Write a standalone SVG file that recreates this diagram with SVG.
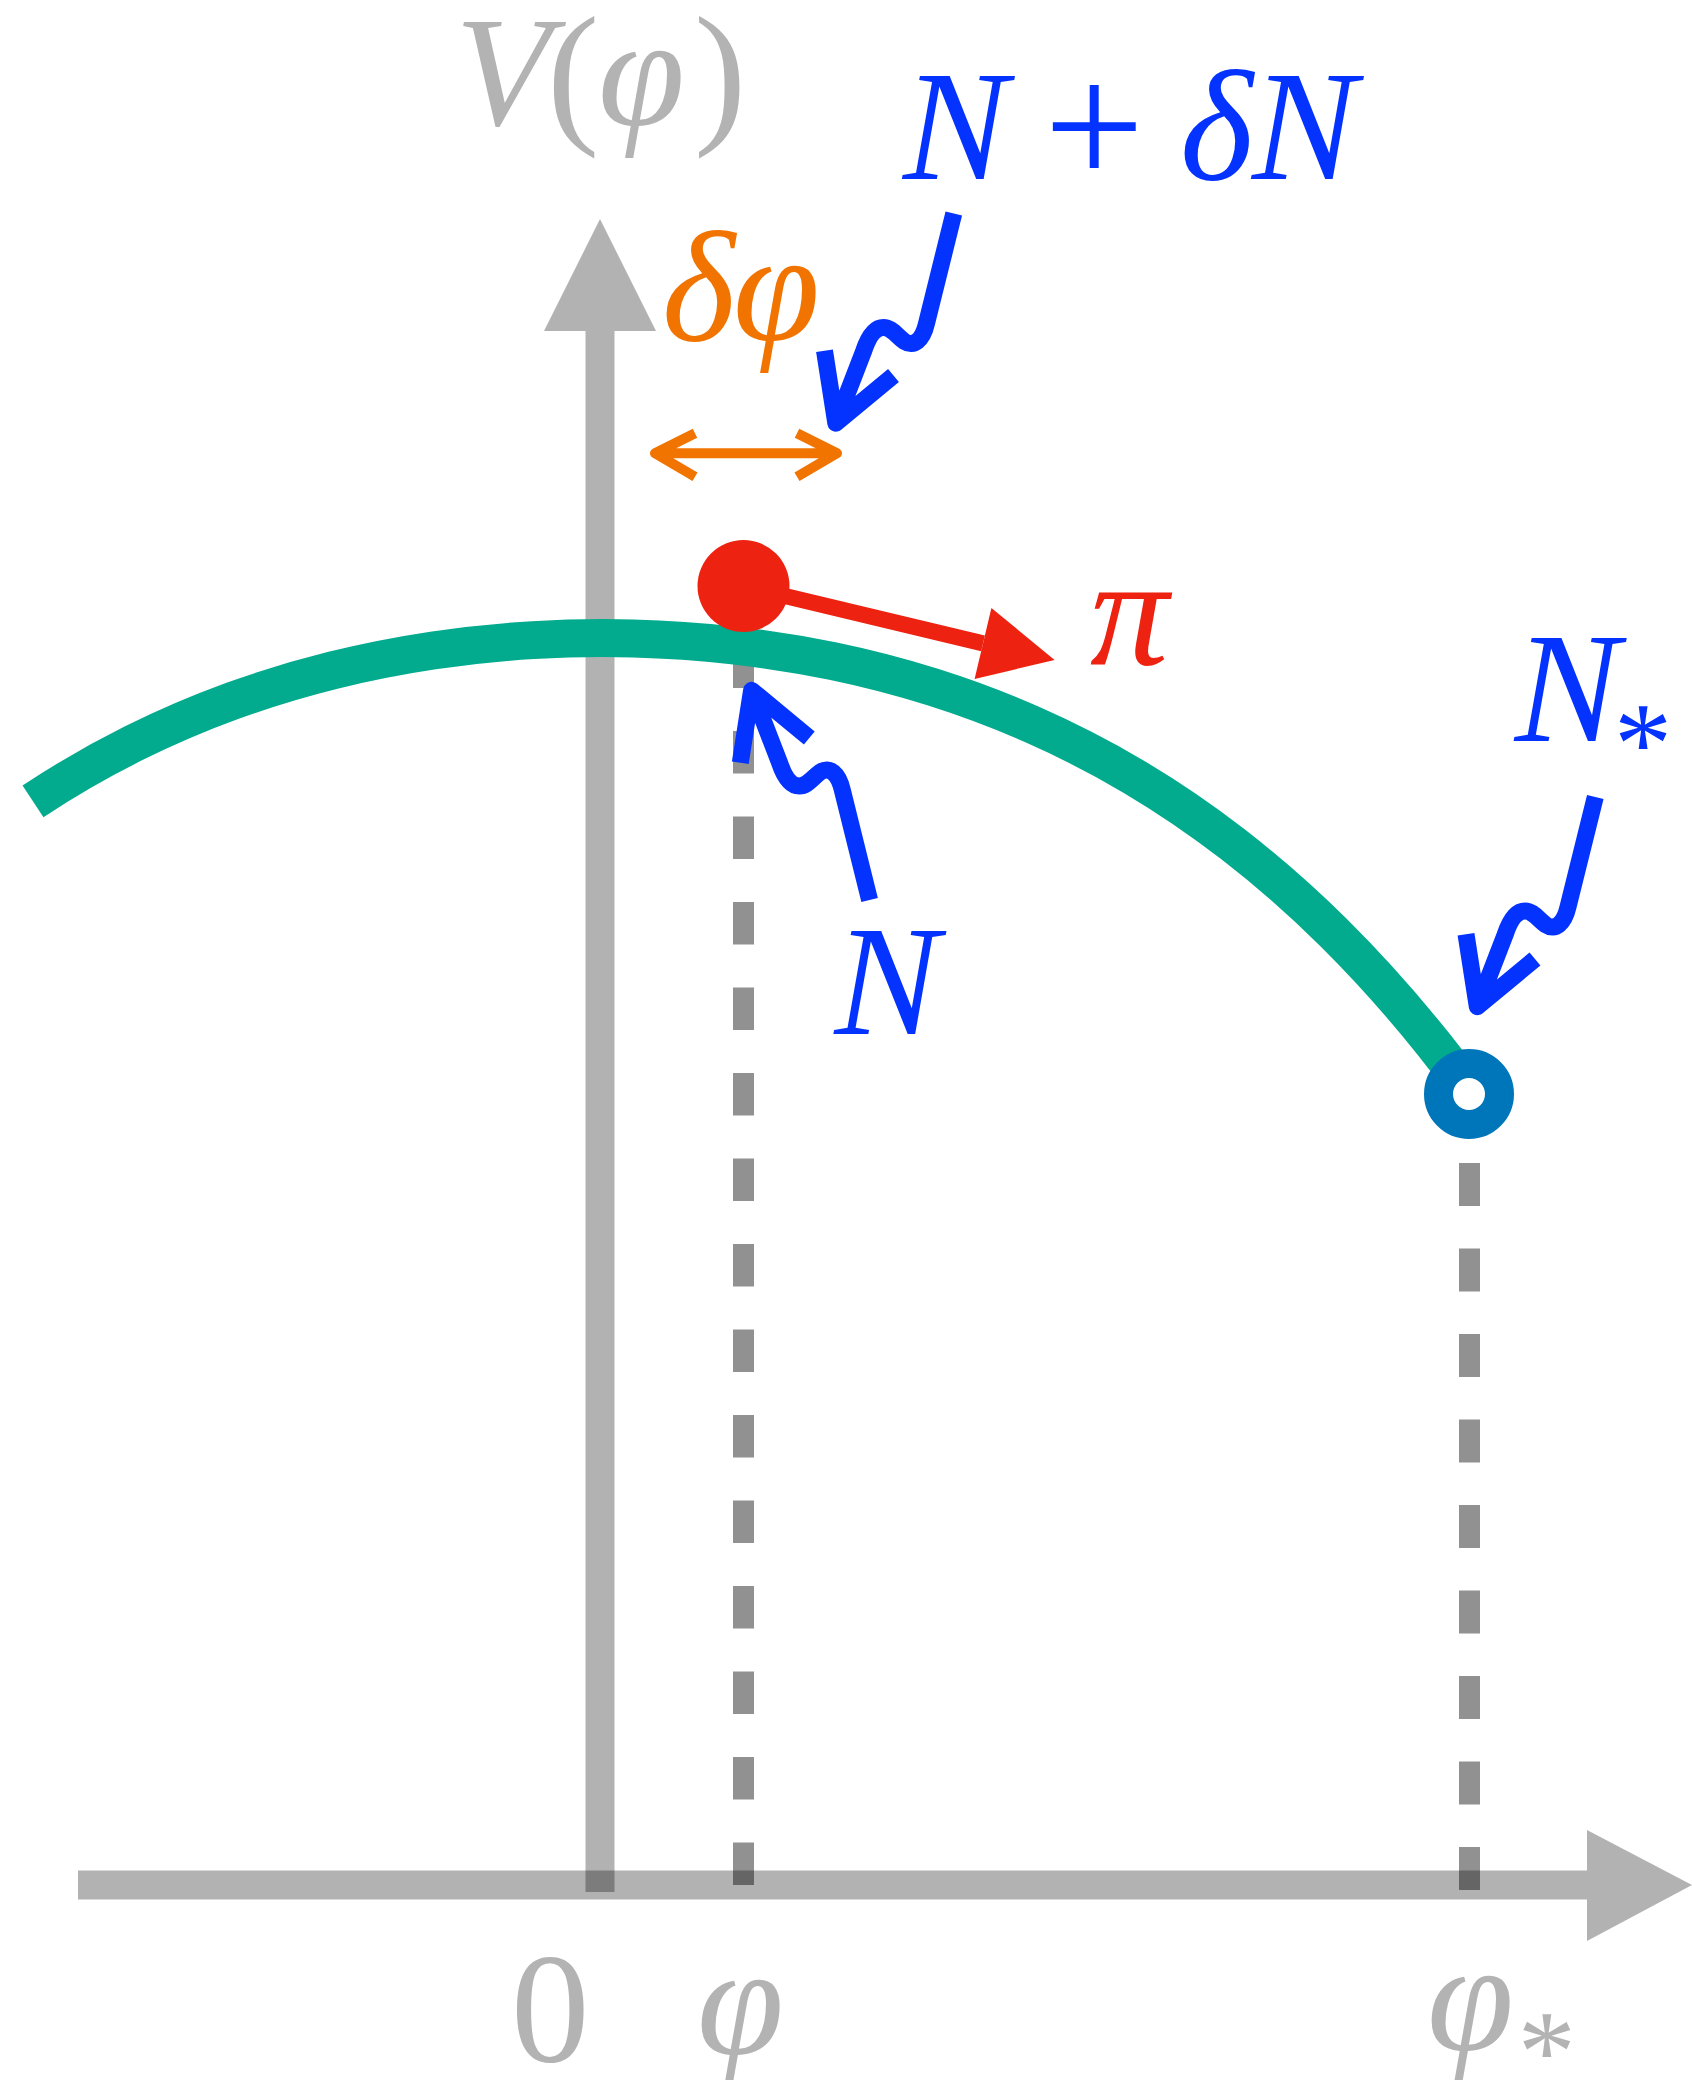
<svg xmlns="http://www.w3.org/2000/svg" xmlns:xlink="http://www.w3.org/1999/xlink" width="1692" height="2080" viewBox="0 0 1692 2080">
<style>
.ax{stroke:#000;stroke-opacity:0.3;stroke-width:29;fill:none}
.axh{fill:#000;fill-opacity:0.3;stroke:none}
.dash{stroke:#000;stroke-opacity:0.43;stroke-width:21;fill:none}
.sq{stroke:#0433ff;stroke-width:17;fill:none;stroke-linejoin:round;stroke-linecap:butt}
.m{font-family:"Liberation Serif","Times New Roman",serif;font-style:italic;font-size:157px}
.r{font-style:normal}
.gray{fill:#b3b3b3}
.blue{fill:#0433ff}
</style>
<defs>
<path id="squig" d="M1595.3,797 L1568,907 C1564,924 1555,931 1546,925 C1538,919 1533,911 1525,911 C1516,911 1510,920 1505,935 L1477.3,1006.7 M1466,934.3 L1477.3,1006.7 L1535,959"/>
</defs>
<g id="axes">
<line class="ax" x1="600" y1="331" x2="600" y2="1892"/>
<polygon class="axh" points="600,219 544,331 656,331"/>
<line class="ax" x1="78" y1="1885" x2="1587" y2="1885"/>
<polygon class="axh" points="1587,1830 1692,1885 1587,1941"/>
</g>
<g id="guides">
<line class="dash" x1="743.5" y1="560" x2="743.5" y2="1885" stroke-dasharray="42.5 43"/>
<line class="dash" x1="1469.5" y1="1163" x2="1469.5" y2="1890" stroke-dasharray="43 42.5"/>
</g>
<g id="potential">
<path d="M33,801.3 C66.33,779.3 99.67,760.2 133,743.6 C166.33,727 199.67,712.8 233,700.7 C266.33,688.6 299.67,678.6 333,670.3 C366.33,662 399.67,655.5 433,650.5 C466.33,645.5 499.67,642.1 533,640.1 C566.33,638.1 599.67,637.55 633,638.4 C666.33,639.25 699.67,641.5 733,645.3 C766.33,649.1 799.67,654.3 833,661.2 C866.33,668.1 899.67,676.7 933,687.2 C966.33,697.7 999.67,710.2 1033,724.9 C1066.33,739.6 1099.67,756.6 1133,776.3 C1166.33,796 1199.67,818.5 1233,844.3 C1266.33,870.1 1299.67,899 1333,932 C1366.33,965 1399.67,1001.9 1433,1043.5 C1445,1058.5 1457,1074.1 1469,1090.3" fill="none" stroke="#03ab8e" stroke-width="38"/>
</g>
<g id="field-point">
<line x1="743.5" y1="586" x2="983" y2="643.4" stroke="#ee2211" stroke-width="16"/>
<polygon points="1054.6,660 991.4,607.9 974.6,678.9" fill="#ee2211"/>
<circle cx="743.5" cy="586" r="46" fill="#ee2211"/>
</g>
<g id="end-point">
<circle cx="1469" cy="1094" r="30.5" fill="#fff" stroke="#0076ba" stroke-width="29"/>
</g>
<g id="connectors">
<use xlink:href="#squig" href="#squig" class="sq"/>
<use xlink:href="#squig" href="#squig" class="sq" transform="translate(-641.5,-583.5)"/>
<use xlink:href="#squig" href="#squig" class="sq" transform="translate(-725.7,1697) scale(1,-1)"/>
<path d="M695,433.3 L655,453.3 L695,476.7 M655,453.3 L837,453.3 M797,433.3 L837,453.3 L797,476.7" fill="none" stroke="#f27400" stroke-width="10" stroke-linejoin="round"/>
</g>
<g id="labels">
<text class="m gray" y="125"><tspan x="455">V</tspan><tspan class="r" x="547">(</tspan><tspan x="598">φ</tspan><tspan class="r" x="694">)</tspan></text>
<text class="m blue" y="179"><tspan x="903">N</tspan><tspan class="r" x="1044" y="186" style="font-size:178px">+</tspan><tspan x="1180" y="179">δ</tspan><tspan x="1252">N</tspan></text>
<text class="m" fill="#f27400" y="340"><tspan x="662">δ</tspan><tspan x="733">φ</tspan></text>
<text class="m" fill="#ee2211" x="1090" y="664">π</text>
<text class="m blue" x="834.5" y="1034">N</text>
<text class="m blue" y="741"><tspan x="1514.7">N</tspan><tspan class="r" x="1614" y="783.4" style="font-size:116px">*</tspan></text>
<text class="m gray r" x="511" y="2061">0</text>
<text class="m gray" x="697" y="2054">φ</text>
<text class="m gray" y="2050"><tspan x="1427">φ</tspan><tspan class="r" x="1517.7" y="2091.4" style="font-size:116px">*</tspan></text>
</g>
</svg>
